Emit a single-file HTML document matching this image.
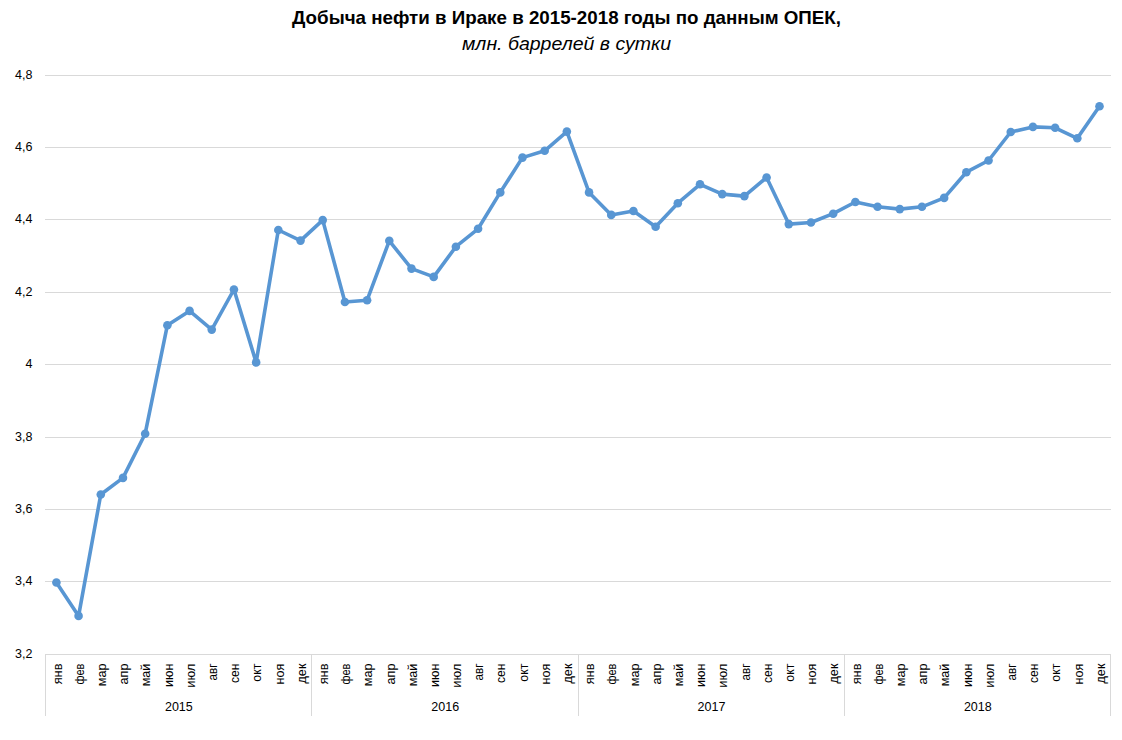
<!DOCTYPE html><html><head><meta charset="utf-8"><style>html,body{margin:0;padding:0;background:#fff;width:1122px;height:740px;overflow:hidden}svg{display:block;font-family:"Liberation Sans",sans-serif}</style></head><body>
<svg width="1122" height="740" viewBox="0 0 1122 740">
<rect width="1122" height="740" fill="#fff"/>
<text x="292" y="23.5" font-size="18.5" font-weight="bold" fill="#000" textLength="549" lengthAdjust="spacingAndGlyphs">Добыча нефти в Ираке в 2015-2018 годы по данным ОПЕК,</text>
<text x="462" y="49.5" font-size="18.5" font-style="italic" fill="#000" textLength="209" lengthAdjust="spacingAndGlyphs">млн. баррелей в сутки</text>
<line x1="45" y1="75.5" x2="1111" y2="75.5" stroke="#d9d9d9" stroke-width="1"/>
<text x="32.5" y="79.20" font-size="12.5" fill="#000" text-anchor="end">4,8</text>
<line x1="45" y1="147.5" x2="1111" y2="147.5" stroke="#d9d9d9" stroke-width="1"/>
<text x="32.5" y="151.20" font-size="12.5" fill="#000" text-anchor="end">4,6</text>
<line x1="45" y1="219.5" x2="1111" y2="219.5" stroke="#d9d9d9" stroke-width="1"/>
<text x="32.5" y="223.20" font-size="12.5" fill="#000" text-anchor="end">4,4</text>
<line x1="45" y1="292.5" x2="1111" y2="292.5" stroke="#d9d9d9" stroke-width="1"/>
<text x="32.5" y="296.20" font-size="12.5" fill="#000" text-anchor="end">4,2</text>
<line x1="45" y1="364.5" x2="1111" y2="364.5" stroke="#d9d9d9" stroke-width="1"/>
<text x="32.5" y="368.20" font-size="12.5" fill="#000" text-anchor="end">4</text>
<line x1="45" y1="437.5" x2="1111" y2="437.5" stroke="#d9d9d9" stroke-width="1"/>
<text x="32.5" y="441.20" font-size="12.5" fill="#000" text-anchor="end">3,8</text>
<line x1="45" y1="509.5" x2="1111" y2="509.5" stroke="#d9d9d9" stroke-width="1"/>
<text x="32.5" y="513.20" font-size="12.5" fill="#000" text-anchor="end">3,6</text>
<line x1="45" y1="581.5" x2="1111" y2="581.5" stroke="#d9d9d9" stroke-width="1"/>
<text x="32.5" y="585.20" font-size="12.5" fill="#000" text-anchor="end">3,4</text>
<text x="32.5" y="658.20" font-size="12.5" fill="#000" text-anchor="end">3,2</text>
<line x1="45" y1="654.5" x2="1111" y2="654.5" stroke="#d9d9d9" stroke-width="1"/>
<line x1="45.5" y1="654" x2="45.5" y2="716" stroke="#d9d9d9" stroke-width="1"/>
<line x1="311.5" y1="654" x2="311.5" y2="716" stroke="#d9d9d9" stroke-width="1"/>
<line x1="578.5" y1="654" x2="578.5" y2="716" stroke="#d9d9d9" stroke-width="1"/>
<line x1="844.5" y1="654" x2="844.5" y2="716" stroke="#d9d9d9" stroke-width="1"/>
<line x1="1110.5" y1="654" x2="1110.5" y2="716" stroke="#d9d9d9" stroke-width="1"/>
<text transform="translate(61.60,663.6) rotate(-90) scale(1.01,1)" font-size="12.6" fill="#000" text-anchor="end">янв</text>
<text transform="translate(83.79,663.6) rotate(-90) scale(0.87,1)" font-size="12.6" fill="#000" text-anchor="end">фев</text>
<text transform="translate(105.98,663.6) rotate(-90) scale(1.0,1)" font-size="12.6" fill="#000" text-anchor="end">мар</text>
<text transform="translate(128.18,663.6) rotate(-90) scale(1.0,1)" font-size="12.6" fill="#000" text-anchor="end">апр</text>
<text transform="translate(150.37,663.6) rotate(-90) scale(1.0,1)" font-size="12.6" fill="#000" text-anchor="end">май</text>
<text transform="translate(172.57,663.6) rotate(-90) scale(1.0,1)" font-size="12.6" fill="#000" text-anchor="end">июн</text>
<text transform="translate(194.76,663.6) rotate(-90) scale(1.03,1)" font-size="12.6" fill="#000" text-anchor="end">июл</text>
<text transform="translate(216.95,663.6) rotate(-90) scale(0.93,1)" font-size="12.6" fill="#000" text-anchor="end">авг</text>
<text transform="translate(239.15,663.6) rotate(-90) scale(0.96,1)" font-size="12.6" fill="#000" text-anchor="end">сен</text>
<text transform="translate(261.34,663.6) rotate(-90) scale(0.98,1)" font-size="12.6" fill="#000" text-anchor="end">окт</text>
<text transform="translate(283.53,663.6) rotate(-90) scale(1.0,1)" font-size="12.6" fill="#000" text-anchor="end">ноя</text>
<text transform="translate(305.73,663.6) rotate(-90) scale(1.0,1)" font-size="12.6" fill="#000" text-anchor="end">дек</text>
<text transform="translate(327.92,663.6) rotate(-90) scale(1.01,1)" font-size="12.6" fill="#000" text-anchor="end">янв</text>
<text transform="translate(350.12,663.6) rotate(-90) scale(0.87,1)" font-size="12.6" fill="#000" text-anchor="end">фев</text>
<text transform="translate(372.31,663.6) rotate(-90) scale(1.0,1)" font-size="12.6" fill="#000" text-anchor="end">мар</text>
<text transform="translate(394.50,663.6) rotate(-90) scale(1.0,1)" font-size="12.6" fill="#000" text-anchor="end">апр</text>
<text transform="translate(416.70,663.6) rotate(-90) scale(1.0,1)" font-size="12.6" fill="#000" text-anchor="end">май</text>
<text transform="translate(438.89,663.6) rotate(-90) scale(1.0,1)" font-size="12.6" fill="#000" text-anchor="end">июн</text>
<text transform="translate(461.08,663.6) rotate(-90) scale(1.03,1)" font-size="12.6" fill="#000" text-anchor="end">июл</text>
<text transform="translate(483.28,663.6) rotate(-90) scale(0.93,1)" font-size="12.6" fill="#000" text-anchor="end">авг</text>
<text transform="translate(505.47,663.6) rotate(-90) scale(0.96,1)" font-size="12.6" fill="#000" text-anchor="end">сен</text>
<text transform="translate(527.67,663.6) rotate(-90) scale(0.98,1)" font-size="12.6" fill="#000" text-anchor="end">окт</text>
<text transform="translate(549.86,663.6) rotate(-90) scale(1.0,1)" font-size="12.6" fill="#000" text-anchor="end">ноя</text>
<text transform="translate(572.05,663.6) rotate(-90) scale(1.0,1)" font-size="12.6" fill="#000" text-anchor="end">дек</text>
<text transform="translate(594.25,663.6) rotate(-90) scale(1.01,1)" font-size="12.6" fill="#000" text-anchor="end">янв</text>
<text transform="translate(616.44,663.6) rotate(-90) scale(0.87,1)" font-size="12.6" fill="#000" text-anchor="end">фев</text>
<text transform="translate(638.63,663.6) rotate(-90) scale(1.0,1)" font-size="12.6" fill="#000" text-anchor="end">мар</text>
<text transform="translate(660.83,663.6) rotate(-90) scale(1.0,1)" font-size="12.6" fill="#000" text-anchor="end">апр</text>
<text transform="translate(683.02,663.6) rotate(-90) scale(1.0,1)" font-size="12.6" fill="#000" text-anchor="end">май</text>
<text transform="translate(705.22,663.6) rotate(-90) scale(1.0,1)" font-size="12.6" fill="#000" text-anchor="end">июн</text>
<text transform="translate(727.41,663.6) rotate(-90) scale(1.03,1)" font-size="12.6" fill="#000" text-anchor="end">июл</text>
<text transform="translate(749.60,663.6) rotate(-90) scale(0.93,1)" font-size="12.6" fill="#000" text-anchor="end">авг</text>
<text transform="translate(771.80,663.6) rotate(-90) scale(0.96,1)" font-size="12.6" fill="#000" text-anchor="end">сен</text>
<text transform="translate(793.99,663.6) rotate(-90) scale(0.98,1)" font-size="12.6" fill="#000" text-anchor="end">окт</text>
<text transform="translate(816.18,663.6) rotate(-90) scale(1.0,1)" font-size="12.6" fill="#000" text-anchor="end">ноя</text>
<text transform="translate(838.38,663.6) rotate(-90) scale(1.0,1)" font-size="12.6" fill="#000" text-anchor="end">дек</text>
<text transform="translate(860.57,663.6) rotate(-90) scale(1.01,1)" font-size="12.6" fill="#000" text-anchor="end">янв</text>
<text transform="translate(882.77,663.6) rotate(-90) scale(0.87,1)" font-size="12.6" fill="#000" text-anchor="end">фев</text>
<text transform="translate(904.96,663.6) rotate(-90) scale(1.0,1)" font-size="12.6" fill="#000" text-anchor="end">мар</text>
<text transform="translate(927.15,663.6) rotate(-90) scale(1.0,1)" font-size="12.6" fill="#000" text-anchor="end">апр</text>
<text transform="translate(949.35,663.6) rotate(-90) scale(1.0,1)" font-size="12.6" fill="#000" text-anchor="end">май</text>
<text transform="translate(971.54,663.6) rotate(-90) scale(1.0,1)" font-size="12.6" fill="#000" text-anchor="end">июн</text>
<text transform="translate(993.73,663.6) rotate(-90) scale(1.03,1)" font-size="12.6" fill="#000" text-anchor="end">июл</text>
<text transform="translate(1015.93,663.6) rotate(-90) scale(0.93,1)" font-size="12.6" fill="#000" text-anchor="end">авг</text>
<text transform="translate(1038.12,663.6) rotate(-90) scale(0.96,1)" font-size="12.6" fill="#000" text-anchor="end">сен</text>
<text transform="translate(1060.32,663.6) rotate(-90) scale(0.98,1)" font-size="12.6" fill="#000" text-anchor="end">окт</text>
<text transform="translate(1082.51,663.6) rotate(-90) scale(1.0,1)" font-size="12.6" fill="#000" text-anchor="end">ноя</text>
<text transform="translate(1104.70,663.6) rotate(-90) scale(1.0,1)" font-size="12.6" fill="#000" text-anchor="end">дек</text>
<text x="178.86" y="711" font-size="12.5" fill="#000" text-anchor="middle">2015</text>
<text x="445.19" y="711" font-size="12.5" fill="#000" text-anchor="middle">2016</text>
<text x="711.51" y="711" font-size="12.5" fill="#000" text-anchor="middle">2017</text>
<text x="977.84" y="711" font-size="12.5" fill="#000" text-anchor="middle">2018</text>
<polyline points="56.40,582.5 78.59,615.9 100.78,494.5 122.98,477.9 145.17,433.7 167.37,325.2 189.56,310.9 211.75,329.6 233.95,289.5 256.14,362.4 278.33,230 300.53,240.6 322.72,220.1 344.92,302 367.11,300.2 389.30,240.8 411.50,268.6 433.69,276.9 455.88,246.7 478.08,228.8 500.27,192.4 522.47,157.6 544.66,150.8 566.85,131.6 589.05,192.4 611.24,214.9 633.43,211 655.63,226.7 677.82,203.2 700.02,184.3 722.21,194.1 744.40,196.1 766.60,177.5 788.79,224.1 810.98,222.5 833.18,213.7 855.37,202 877.57,206.8 899.76,209.1 921.95,206.8 944.15,197.9 966.34,172.2 988.53,160.5 1010.73,132 1032.92,126.9 1055.12,127.8 1077.31,138.3 1099.50,106.3" fill="none" stroke="#5896d3" stroke-width="3.6" stroke-linejoin="round" stroke-linecap="round"/>
<circle cx="56.40" cy="582.5" r="4.3" fill="#5896d3"/>
<circle cx="78.59" cy="615.9" r="4.3" fill="#5896d3"/>
<circle cx="100.78" cy="494.5" r="4.3" fill="#5896d3"/>
<circle cx="122.98" cy="477.9" r="4.3" fill="#5896d3"/>
<circle cx="145.17" cy="433.7" r="4.3" fill="#5896d3"/>
<circle cx="167.37" cy="325.2" r="4.3" fill="#5896d3"/>
<circle cx="189.56" cy="310.9" r="4.3" fill="#5896d3"/>
<circle cx="211.75" cy="329.6" r="4.3" fill="#5896d3"/>
<circle cx="233.95" cy="289.5" r="4.3" fill="#5896d3"/>
<circle cx="256.14" cy="362.4" r="4.3" fill="#5896d3"/>
<circle cx="278.33" cy="230" r="4.3" fill="#5896d3"/>
<circle cx="300.53" cy="240.6" r="4.3" fill="#5896d3"/>
<circle cx="322.72" cy="220.1" r="4.3" fill="#5896d3"/>
<circle cx="344.92" cy="302" r="4.3" fill="#5896d3"/>
<circle cx="367.11" cy="300.2" r="4.3" fill="#5896d3"/>
<circle cx="389.30" cy="240.8" r="4.3" fill="#5896d3"/>
<circle cx="411.50" cy="268.6" r="4.3" fill="#5896d3"/>
<circle cx="433.69" cy="276.9" r="4.3" fill="#5896d3"/>
<circle cx="455.88" cy="246.7" r="4.3" fill="#5896d3"/>
<circle cx="478.08" cy="228.8" r="4.3" fill="#5896d3"/>
<circle cx="500.27" cy="192.4" r="4.3" fill="#5896d3"/>
<circle cx="522.47" cy="157.6" r="4.3" fill="#5896d3"/>
<circle cx="544.66" cy="150.8" r="4.3" fill="#5896d3"/>
<circle cx="566.85" cy="131.6" r="4.3" fill="#5896d3"/>
<circle cx="589.05" cy="192.4" r="4.3" fill="#5896d3"/>
<circle cx="611.24" cy="214.9" r="4.3" fill="#5896d3"/>
<circle cx="633.43" cy="211" r="4.3" fill="#5896d3"/>
<circle cx="655.63" cy="226.7" r="4.3" fill="#5896d3"/>
<circle cx="677.82" cy="203.2" r="4.3" fill="#5896d3"/>
<circle cx="700.02" cy="184.3" r="4.3" fill="#5896d3"/>
<circle cx="722.21" cy="194.1" r="4.3" fill="#5896d3"/>
<circle cx="744.40" cy="196.1" r="4.3" fill="#5896d3"/>
<circle cx="766.60" cy="177.5" r="4.3" fill="#5896d3"/>
<circle cx="788.79" cy="224.1" r="4.3" fill="#5896d3"/>
<circle cx="810.98" cy="222.5" r="4.3" fill="#5896d3"/>
<circle cx="833.18" cy="213.7" r="4.3" fill="#5896d3"/>
<circle cx="855.37" cy="202" r="4.3" fill="#5896d3"/>
<circle cx="877.57" cy="206.8" r="4.3" fill="#5896d3"/>
<circle cx="899.76" cy="209.1" r="4.3" fill="#5896d3"/>
<circle cx="921.95" cy="206.8" r="4.3" fill="#5896d3"/>
<circle cx="944.15" cy="197.9" r="4.3" fill="#5896d3"/>
<circle cx="966.34" cy="172.2" r="4.3" fill="#5896d3"/>
<circle cx="988.53" cy="160.5" r="4.3" fill="#5896d3"/>
<circle cx="1010.73" cy="132" r="4.3" fill="#5896d3"/>
<circle cx="1032.92" cy="126.9" r="4.3" fill="#5896d3"/>
<circle cx="1055.12" cy="127.8" r="4.3" fill="#5896d3"/>
<circle cx="1077.31" cy="138.3" r="4.3" fill="#5896d3"/>
<circle cx="1099.50" cy="106.3" r="4.3" fill="#5896d3"/>
</svg></body></html>
